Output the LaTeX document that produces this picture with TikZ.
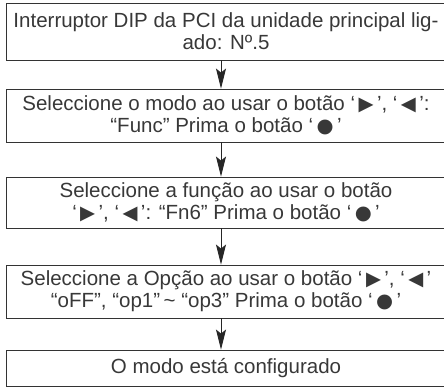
\documentclass[tikz,border=0pt]{standalone}
\usepackage{fontspec}
\setmainfont{Liberation Sans}
\newfontfamily\symf{DejaVu Sans}
\usetikzlibrary{arrows.meta}
\newcommand\myR{\,{\symf\scalebox{0.95}{▶}}\,}
\newcommand\myL{\,{\symf\scalebox{0.95}{◀}}\,}
\newcommand\myD{\,{\symf\scalebox{0.95}{●}}\,}
\begin{document}
\begin{tikzpicture}[x=1pt,y=-1pt,
  box/.style={draw=black!80, line width=0.9pt, minimum width=440pt, inner sep=0pt,
    align=center, font=\fontsize{20.5}{22}\selectfont, text=black!78},
  flow/.style={-{Stealth[length=20pt,width=10pt,inset=4pt]}, line width=0.9pt, draw=black!85}]
\useasboundingbox (0,0) rectangle (444,388);
\node[box, minimum height=57pt] (b1) at (226,31.5) {Interruptor DIP da PCI da unidade principal lig-\\ado: Nº.5};
\node[box, minimum height=53pt] (b2) at (226,115.5) {Seleccione o modo ao usar o botão ‘\myR’, ‘\myL’:\\“Func” Prima o botão ‘\myD’};
\node[box, minimum height=51pt] (b3) at (226,202.5) {Seleccione a função ao usar o botão\\‘\myR’, ‘\myL’: “Fn6” Prima o botão ‘\myD’};
\node[box, minimum height=53pt] (b4) at (226,291.5) {Seleccione a Opção ao usar o botão ‘\myR’, ‘\myL’\\“oFF”, “op1”\,\textasciitilde\ “op3” Prima o botão ‘\myD’};
\node[box, minimum height=36pt] (b5) at (226,368) {O modo está configurado};
\draw[flow] ([xshift=-5pt]b1.south) -- ([xshift=-5pt]b2.north);
\draw[flow] ([xshift=-5pt]b2.south) -- ([xshift=-5pt]b3.north);
\draw[flow] ([xshift=-5pt]b3.south) -- ([xshift=-5pt]b4.north);
\draw[flow] ([xshift=-5pt]b4.south) -- ([xshift=-5pt]b5.north);
\end{tikzpicture}
\end{document}
